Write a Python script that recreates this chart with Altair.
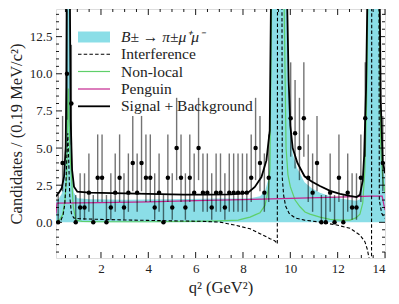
import altair as alt
import pandas as pd
import numpy as np

# ---------------- data ----------------
bin_start = 0.1
bin_width = 0.18533
counts = [0, 4, 10, 8, 0, 1, 1, 2, 0, 3, 3, 0, 1, 2, 3, 1, 2, 4, 2, 4, 3, 3, 1, 2,
          0, 3, 1, 5, 3, 1, 3, 2, 5, 2, 2, 1, 2, 2, 1, 2, 2, 2, 2, 2, 3, 5, 4, 2, 3,
          24, 160, 230, 28,
          7, 6, 5, 7, 3, 2, 4, 0, 0, 2, 0, 3, 0, 2, 1, 1, 3, 7,
          22, 70, 26,
          4]
# Poisson (68.3% central) intervals for small counts
poisson_lo = {0: 0.0, 1: 0.173, 2: 0.708, 3: 1.367, 4: 2.086, 5: 2.840,
              6: 3.620, 7: 4.419, 8: 5.232, 10: 6.899}
poisson_hi = {0: 1.841, 1: 3.300, 2: 4.638, 3: 5.918, 4: 7.163, 5: 8.382,
              6: 9.584, 7: 10.77, 8: 11.95, 10: 14.27}

# Signal + Background
sb_q = [0.10, 0.20, 0.34, 0.44, 0.51, 0.535, 0.55, 0.62, 0.69, 0.72, 0.78, 0.86, 1.0, 1.5,
        2.5, 3.5, 4.5, 5.5, 6.5, 7.5, 8.0, 8.25, 8.5, 8.78, 8.99, 9.13, 9.18, 9.59, 9.87,
        9.93, 10.0, 10.1, 10.3, 10.6, 10.9, 11.25, 11.68, 12.1, 12.52, 12.8, 12.94, 13.06,
        13.12, 13.2, 13.25, 13.6, 13.78, 13.82, 13.9, 14.0]
sb_y = [1.75, 1.95, 2.29, 3.07, 5.09, 9.13, 14.5, 60, 14.5, 6.89, 3.52, 2.4, 2.06, 2.0,
        1.96, 1.93, 1.9, 1.87, 1.86, 1.88, 1.95, 2.05, 2.38, 3.05, 4.17, 6.17, 14.5, 400, 14.5,
        9.5, 6.5, 5.0, 4.0, 3.1, 2.75, 2.45, 2.12, 1.92, 1.78, 1.7, 1.85, 2.8,
        4.5, 9.0, 14.5, 200, 14.5, 8.2, 4.17, 3.3]

# B -> pi mu mu signal
sig_q = [0.10, 0.20, 0.34, 0.44, 0.51, 0.535, 0.55, 0.62, 0.69, 0.72, 0.78, 0.86, 1.0, 1.5,
         3.0, 5.0, 7.0, 8.0, 8.3, 8.72, 8.93, 9.07, 9.14, 9.19, 9.59, 9.87, 9.93, 10.0, 10.1,
         10.3, 10.6, 10.9, 11.25, 11.68, 12.1, 12.52, 12.8, 12.94, 13.06, 13.12, 13.2, 13.25,
         13.6, 13.78, 13.82, 13.9, 14.0]
sig_y = [1.4, 1.55, 1.9, 2.7, 4.7, 8.7, 14.5, 60, 14.5, 6.5, 3.1, 2.0, 1.62, 1.55,
         1.52, 1.56, 1.6, 1.6, 1.62, 1.75, 2.1, 2.9, 4.5, 14.5, 400, 14.5, 9.0, 6.1, 4.6,
         3.6, 2.7, 2.3, 2.0, 1.75, 1.6, 1.5, 1.45, 1.55, 2.5, 4.2, 8.7, 14.5,
         200, 14.5, 7.8, 3.8, 3.0]

# Non-local
nl_q = [0.10, 0.24, 0.38, 0.48, 0.55, 0.62, 0.69, 0.76, 0.83, 0.94, 1.2, 2.0, 4.0, 6.0, 7.0,
        7.8, 8.08, 8.3, 8.51, 8.72, 8.93, 9.07, 9.14, 9.2, 9.59, 9.74, 9.82, 9.9, 10.0, 10.2,
        10.41, 10.62, 10.83, 11.25, 11.68, 12.1, 12.52, 12.77, 12.94, 13.06, 13.15, 13.22,
        13.27, 13.6, 13.76, 13.82, 13.9, 14.0]
nl_y = [0.05, 0.15, 0.5, 1.5, 3.07, 9.0, 4.65, 2.85, 1.05, 0.15, 0.06, 0.04, 0.04, 0.06, 0.1,
        0.15, 0.27, 0.35, 0.5, 0.65, 1.14, 2.2, 3.6, 14.5, 500, 14.5, 5.0, 3.2, 2.4, 1.5,
        1.05, 0.7, 0.55, 0.35, 0.2, 0.15, 0.15, 0.3, 0.55, 1.3, 3.5, 8.0,
        14.5, 300, 14.5, 5.0, 3.0, 2.0]

# Interference
int_q = [0.10, 0.30, 0.40, 0.47, 0.52, 0.56, 0.60, 0.64, 0.68, 0.75, 0.85, 1.1, 2.0, 3.0,
         4.0, 5.0, 6.2, 7.0, 7.58, 8.3, 8.72, 9.14, 9.35, 9.45, 9.47, 9.62, 9.66, 9.72, 9.8,
         9.95, 10.2, 10.6, 11.2, 11.96, 12.52, 12.94, 13.15, 13.25, 13.35, 13.43, 13.45,
         13.72, 13.76, 13.86, 14.0]
int_y = [0.0, 0.1, 0.5, 1.2, 2.6, 4.5, 6.0, 4.0, 1.8, 0.6, 0.3, 0.24, 0.2, 0.16,
         0.13, 0.1, 0.07, 0.02, -0.16, -0.43, -0.76, -1.1, -1.25, -1.45, 40, 40, 3.0, 1.8, 1.1,
         0.6, 0.3, 0.15, 0.03, -0.18, -0.4, -0.85, -1.3, -1.8, -2.6, -5.0, 40,
         40, 1.49, 0.6, 0.27]

# Penguin
pen_q = [0.10, 0.14, 1.0, 2.0, 4.0, 6.0, 8.0, 10.0, 12.0, 13.4, 13.88, 13.95, 14.0]
pen_y = [0.58, 1.30, 1.31, 1.33, 1.38, 1.46, 1.53, 1.62, 1.70, 1.76, 1.77, 1.2, 0.82]

x_major = [2, 4, 6, 8, 10, 12, 14]
x_minor = [v / 2 for v in range(1, 28) if v % 4 != 0]
y_major = [0.0, 2.5, 5.0, 7.5, 10.0, 12.5]
y_minor = [v / 2 for v in range(-4, 29) if v % 5 != 0]

# ---------------- tables ----------------
centers = [bin_start + bin_width * (i + 0.5) for i in range(len(counts))]
lo = [poisson_lo[n] if n in poisson_lo else n - np.sqrt(n) for n in counts]
hi = [poisson_hi[n] if n in poisson_hi else n + np.sqrt(n) for n in counts]
pts = pd.DataFrame({"q": centers, "n": counts, "lo": lo, "hi": hi})

sb = pd.DataFrame({"q": sb_q, "y": sb_y})
sig = pd.DataFrame({"q": sig_q, "y": sig_y, "base": 0.0})
nl = pd.DataFrame({"q": nl_q, "y": nl_y})
itf = pd.DataFrame({"q": int_q, "y": int_y})
pen = pd.DataFrame({"q": pen_q, "y": pen_y})

W, H = 329, 249
xs = alt.Scale(domain=[0.1, 14.0], nice=False, zero=False)
ys = alt.Scale(domain=[-2.4, 14.36], nice=False, zero=False)
FONT = "Liberation Serif"

XT = "q² (GeV²)"
YT = "Candidates / (0.19 MeV/c²)"
xaxis = alt.Axis(values=x_major, format="d", ticks=False, domain=False, grid=False,
                 labelFont=FONT, labelFontSize=13, labelPadding=4, labelColor="#222",
                 titleFont=FONT, titleFontSize=16.5,
                 titleFontWeight="normal", titlePadding=4, titleColor="#222")
yaxis = alt.Axis(values=y_major, format=".1f", ticks=False, domain=False, grid=False,
                 labelFont=FONT, labelFontSize=13, labelPadding=4, labelColor="#222",
                 titleFont=FONT, titleFontSize=16.5,
                 titleFontWeight="normal", titlePadding=5, titleColor="#222")


def X(field):
    return alt.X(field, scale=xs, axis=xaxis, title=XT)


def Y(field):
    return alt.Y(field, scale=ys, axis=yaxis, title=YT)


area = alt.Chart(sig).mark_area(color="#8bdee7", opacity=1, clip=True).encode(
    x=X("q:Q"), y=Y("y:Q"), y2="base:Q")


def curve(df, color, width, dash=None):
    kw = dict(color=color, strokeWidth=width, clip=True)
    if dash:
        kw["strokeDash"] = dash
    return alt.Chart(df).mark_line(**kw).encode(x=X("q:Q"), y=Y("y:Q"), order="q:Q")


green = curve(nl, "#5fcf6a", 1.2)
magenta = curve(pen, "#c4268f", 1.2)
dashed = curve(itf, "#000000", 1.1, [3.5, 2.2])
black = curve(sb, "#000000", 1.8)

errs = alt.Chart(pts).mark_rule(color="#000000", opacity=0.55, strokeWidth=1.4, clip=True).encode(
    x=X("q:Q"), y=Y("lo:Q"), y2="hi:Q")
dots = alt.Chart(pts).mark_circle(color="#000000", opacity=1, size=20, clip=True).encode(
    x=X("q:Q"), y=Y("n:Q"))


def xticks(vals, length):
    d = pd.DataFrame({"v": vals})
    b = alt.Chart(d).mark_rule(color="#000", strokeWidth=0.9).encode(
        x=X("v:Q"), y=alt.value(H), y2=alt.value(H - length))
    t = alt.Chart(d).mark_rule(color="#000", strokeWidth=0.9).encode(
        x=X("v:Q"), y=alt.value(0), y2=alt.value(length))
    return [b, t]


def yticks(vals, length):
    d = pd.DataFrame({"v": vals})
    l = alt.Chart(d).mark_rule(color="#000", strokeWidth=0.9).encode(
        y=Y("v:Q"), x=alt.value(0), x2=alt.value(length))
    r = alt.Chart(d).mark_rule(color="#000", strokeWidth=0.9).encode(
        y=Y("v:Q"), x=alt.value(W), x2=alt.value(W - length))
    return [l, r]


ticks = xticks(x_major, 6) + xticks(x_minor, 3) + yticks(y_major, 6) + yticks(y_minor, 3)

# ---------------- legend ----------------
one = pd.DataFrame({"k": [0]})
rows = [28, 45.3, 62.5, 80, 97.3]
sx0, sx1, tx = 22, 54, 65
leg = [
    alt.Chart(one).mark_rect(color="#8bdee7").encode(
        x=alt.value(sx0), x2=alt.value(sx1), y=alt.value(rows[0] - 5.5), y2=alt.value(rows[0] + 5.5)),
    alt.Chart(one).mark_rule(color="#000", strokeWidth=1.1, strokeDash=[3.5, 2.2]).encode(
        x=alt.value(sx0), x2=alt.value(sx1), y=alt.value(rows[1])),
    alt.Chart(one).mark_rule(color="#5fcf6a", strokeWidth=1.2).encode(
        x=alt.value(sx0), x2=alt.value(sx1), y=alt.value(rows[2])),
    alt.Chart(one).mark_rule(color="#c4268f", strokeWidth=1.2).encode(
        x=alt.value(sx0), x2=alt.value(sx1), y=alt.value(rows[3])),
    alt.Chart(one).mark_rule(color="#000", strokeWidth=1.8).encode(
        x=alt.value(sx0), x2=alt.value(sx1), y=alt.value(rows[4])),
]
labels = ["B± → π±μ⁺μ⁻", "Interference", "Non-local", "Penguin", "Signal + Background"]
for i, lab in enumerate(labels):
    leg.append(alt.Chart(one).mark_text(
        align="left", baseline="middle", font=FONT, fontSize=15.5,
        fontStyle="italic" if i == 0 else "normal", color="#222").encode(
        x=alt.value(tx), y=alt.value(rows[i]), text=alt.value(lab)))

chart = alt.layer(area, green, magenta, dashed, black, errs, dots, *ticks, *leg).properties(
    width=W, height=H,
    autosize=alt.AutoSizeParams(type="none"),
    padding={"left": 48, "top": 1, "right": 6, "bottom": 38},
).configure_view(stroke="#000", strokeWidth=1.1).configure(background="white")

chart.save("out.html", embed_options={"renderer": "svg", "actions": False})
